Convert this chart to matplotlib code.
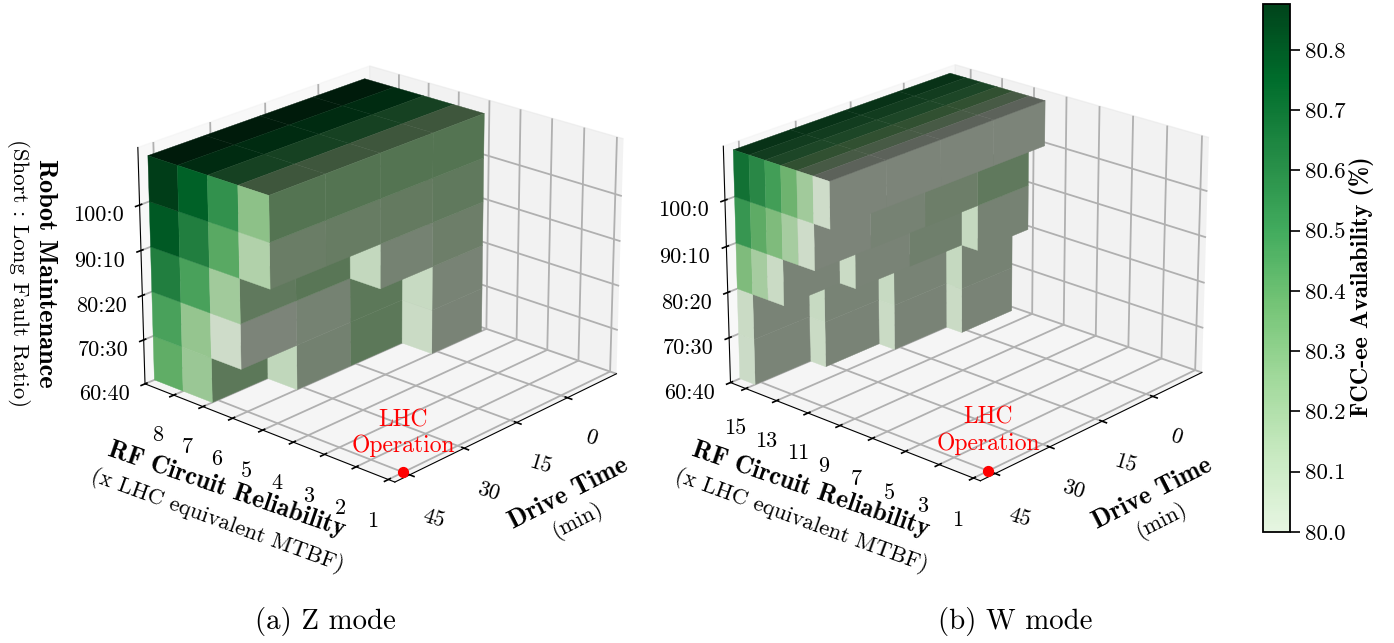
import matplotlib
matplotlib.use('Agg')
import matplotlib.pyplot as plt
import matplotlib.colors as mcolors
from matplotlib.cm import ScalarMappable
import numpy as np

nan = np.nan

# axis values
drive_times = [45, 30, 15, 0]
ratio_labels = ['60:40', '70:30', '80:20', '90:10', '100:0']

# Z mode: availability per level, rows = drive time, columns = RF reliability
z_rf = [8, 7, 6, 5]
z_ticks = [8, 7, 6, 5, 4, 3, 2, 1]
z_60 = [[80.40, 80.22, nan, nan],
        [80.45, 80.30, 80.07, nan],
        [80.50, 80.35, 80.22, nan],
        [80.55, 80.40, 80.30, 80.03]]
z_70 = [[80.46, 80.24, 80.01, nan],
        [80.50, 80.30, 80.06, nan],
        [80.55, 80.35, 80.22, nan],
        [80.60, 80.40, 80.30, 80.04]]
z_80 = [[80.62, 80.46, 80.20, nan],
        [80.64, 80.48, 80.24, nan],
        [80.66, 80.50, 80.30, 80.06],
        [80.68, 80.52, 80.32, 80.12]]
z_90 = [[80.78, 80.62, 80.42, 80.14],
        [80.78, 80.62, 80.42, 80.16],
        [80.78, 80.62, 80.42, 80.18],
        [80.78, 80.62, 80.42, 80.20]]
z_100 = [[80.876, 80.75, 80.54, 80.27],
         [80.876, 80.75, 80.54, 80.27],
         [80.876, 80.75, 80.54, 80.27],
         [80.876, 80.75, 80.54, 80.27]]

# W mode
w_rf = [15, 14, 13, 12, 11, 10]
w_ticks = [15, 13, 11, 9, 7, 5, 3, 1]
w_60 = [[80.02, nan, nan, nan, nan, nan],
        [80.10, 80.03, nan, nan, nan, nan],
        [80.15, 80.08, 80.03, nan, nan, nan],
        [80.20, 80.12, 80.08, 80.03, nan, nan]]
w_70 = [[80.03, nan, nan, nan, nan, nan],
        [80.10, 80.04, nan, nan, nan, nan],
        [80.15, 80.08, 80.04, nan, nan, nan],
        [80.20, 80.12, 80.08, 80.05, nan, nan]]
w_80 = [[80.31, 80.18, 80.03, nan, nan, nan],
        [80.33, 80.20, 80.08, 80.03, nan, nan],
        [80.35, 80.22, 80.10, 80.10, nan, nan],
        [80.38, 80.25, 80.15, 80.10, 80.05, nan]]
w_90 = [[80.52, 80.41, 80.31, 80.18, 80.01, nan],
        [80.52, 80.41, 80.31, 80.18, 80.05, nan],
        [80.52, 80.41, 80.31, 80.18, 80.12, nan],
        [80.52, 80.41, 80.31, 80.18, 80.20, nan]]
w_100 = [[80.68, 80.58, 80.48, 80.36, 80.20, 80.01],
         [80.68, 80.58, 80.48, 80.36, 80.20, 80.01],
         [80.68, 80.58, 80.48, 80.36, 80.20, 80.01],
         [80.68, 80.58, 80.48, 80.36, 80.20, 80.01]]

plt.rcParams['font.family'] = ['cmr10', 'DejaVu Serif']
plt.rcParams['axes.formatter.use_mathtext'] = True

vmin, vmax = 80.0, 80.876
norm = mcolors.Normalize(vmin, vmax)
cmap = mcolors.LinearSegmentedColormap.from_list(
    'greens', plt.cm.Greens(np.linspace(0.12, 1.0, 256)))

W, H = 1394, 643
fig = plt.figure(figsize=(W / 100, H / 100), dpi=100)


def fpos(x, y):
    return x / W, 1 - y / H


def draw_panel(rect, rf, levels, xticks, xlim, ztop):
    ax = fig.add_axes(rect, projection='3d')
    vals = np.array(levels)
    nk, nj, ni = vals.shape

    def filled(k, j, i):
        return 0 <= k < nk and 0 <= j < nj and 0 <= i < ni and not np.isnan(vals[k, j, i])

    xs, ys, zs, cols = [], [], [], []
    for k in range(nk):
        for j, d in enumerate(drive_times):
            for i, r in enumerate(rf):
                if not filled(k, j, i):
                    continue
                xs.append(r)
                ys.append(d - 13.5)
                zs.append(k)
                c = cmap(norm(vals[k, j, i]))
                # face order in bar3d: -z +z -y +y -x +x, only the outer visible ones get colour
                faces = [(0, False), (0.4, not filled(k + 1, j, i)),
                         (0, False), (0.9, not filled(k, j - 1, i)),
                         (0.54, not filled(k, j, i + 1)), (0, False)]
                for m, show in faces:
                    cols.append([c[0] * m, c[1] * m, c[2] * m, 1.0 if show else 0.0])
    ax.bar3d(xs, ys, zs, 1, 15, 1, color=cols, shade=False, edgecolors=cols, linewidth=0.3)
    ax.set_xlim(*xlim)
    ax.set_ylim(-15, 49)
    ax.set_zlim(0, ztop)
    ax.set_xticks(xticks)
    ax.set_xticklabels([str(t) for t in xticks], ha='left')
    ax.set_yticks(drive_times)
    ax.set_yticklabels([str(t) for t in drive_times], rotation=-17)
    ax.set_zticks(range(5))
    ax.set_zticklabels(ratio_labels)
    ax.tick_params(axis='both', labelsize=16)
    ax.tick_params(axis='x', pad=12)
    ax.tick_params(axis='y', pad=12)
    ax.tick_params(axis='z', pad=11)
    ax.view_init(elev=22, azim=132)
    ax.set_box_aspect((4, 4, 3), zoom=0.89)
    ax.zaxis.set_ticks_position('upper')
    ax.scatter([xticks[-1]], [45], [0], color='red', s=50, depthshade=False, zorder=100)
    ax.text(xticks[-1], 45, 0.85, 'LHC\nOperation', color='red', fontsize=17,
            ha='center', va='center', zorder=101)
    for a in (ax.xaxis, ax.yaxis, ax.zaxis):
        a._axinfo['grid']['linewidth'] = 1.3
        a._axinfo['axisline']['linewidth'] = 1.3
        a._axinfo['tick']['linewidth'] = {True: 1.2, False: 1.0}
    return ax


draw_panel([0.038, 0.119, 0.46, 0.92], z_rf, [z_60, z_70, z_80, z_90, z_100], z_ticks, (0.8, 9), 5.25)
draw_panel([0.458, 0.121, 0.46, 0.92], w_rf, [w_60, w_70, w_80, w_90, w_100], w_ticks, (0.6, 16), 5.15)

label_style = dict(ha='center', va='center', rotation_mode='anchor')
for dx in (0, 584):
    fig.text(*fpos(227 + dx, 490), 'RF Circuit Reliability', family='cmb10', fontsize=18.5,
             rotation=-19, **label_style)
    fig.text(*fpos(217 + dx, 521), '(x LHC equivalent MTBF)', fontsize=16.2,
             rotation=-20, **label_style)
    fig.text(*fpos(568 + dx, 494), 'Drive Time', family='cmb10', fontsize=18.5,
             rotation=27, **label_style)
    fig.text(*fpos(578 + dx, 520), '(min)', fontsize=16.2, rotation=27, **label_style)
fig.text(*fpos(45, 273), 'Robot Maintenance', family='cmb10', fontsize=19,
         rotation=-90, **label_style)
fig.text(*fpos(18, 273), '(Short : Long Fault Ratio)', fontsize=16.5, rotation=-90, **label_style)
fig.text(*fpos(325, 622), '(a) Z mode', fontsize=20.8, **label_style)
fig.text(*fpos(1015, 622), '(b) W mode', fontsize=20.8, **label_style)

cax = fig.add_axes([1263 / W, 1 - 532 / H, 27 / W, 528 / H])
cb = fig.colorbar(ScalarMappable(norm, cmap), cax=cax)
cb.set_ticks([80.0, 80.1, 80.2, 80.3, 80.4, 80.5, 80.6, 80.7, 80.8])
cb.set_ticklabels(['80.0', '80.1', '80.2', '80.3', '80.4', '80.5', '80.6', '80.7', '80.8'])
cax.tick_params(labelsize=16.5, width=1.2, length=7)
cb.outline.set_linewidth(1.3)
fig.text(*fpos(1362, 287), 'FCC-ee Availability (%)', family='cmb10', fontsize=17.5,
         rotation=90, **label_style)

fig.savefig('out.png', dpi=100)
